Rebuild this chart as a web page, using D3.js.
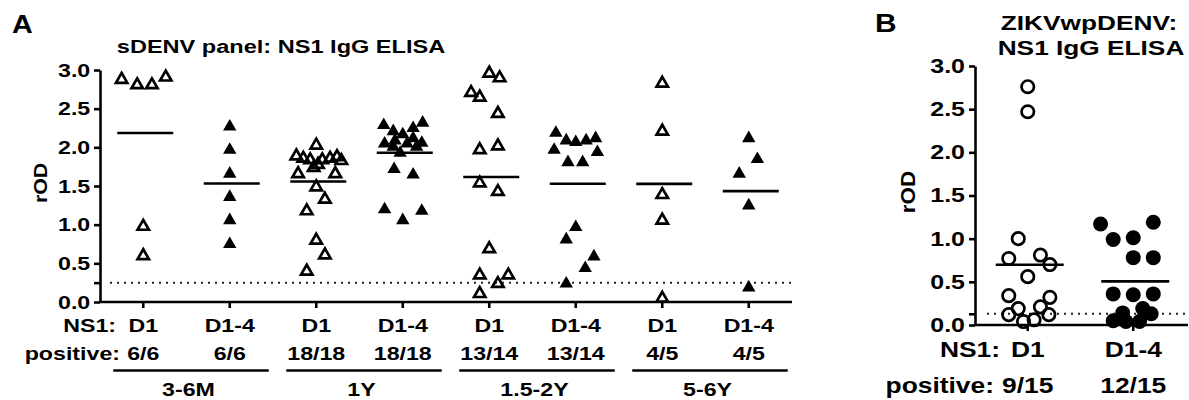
<!DOCTYPE html>
<html>
<head>
  <meta charset="utf-8">
  <title>NS1 IgG ELISA</title>
  <script src="https://d3js.org/d3.v7.min.js"></script>
  <style>
    body { margin: 0; padding: 0; background: #fff; }
    svg { font-family: "Liberation Sans", Arial, sans-serif; font-weight: bold; }
    .axis path, .axis line { stroke: #000; stroke-width: 2.6px; }
    .axis text { fill: #000; font-weight: bold; }
  </style>
</head>
<body>
<div id="chart"></div>
<script>
  // Panel A: sDENV panel
  var ns1A = ["D1", "D1-4", "D1", "D1-4", "D1", "D1-4", "D1", "D1-4"];
  var positiveA = ["6/6", "6/6", "18/18", "18/18", "13/14", "13/14", "4/5", "4/5"];
  var ageGroups = ["3-6M", "1Y", "1.5-2Y", "5-6Y"];
  var valuesA = [
    [2.90, 2.83, 2.83, 2.93, 1.00, 0.62],
    [2.29, 1.99, 1.68, 1.38, 1.08, 0.77],
    [2.05, 1.91, 1.88, 1.86, 1.86, 1.88, 1.90, 1.85, 1.80, 1.76, 1.68, 1.68, 1.51, 1.35, 1.20, 0.82, 0.63, 0.42],
    [2.31, 2.34, 2.27, 2.23, 2.19, 2.07, 2.11, 2.07, 2.14, 2.08, 1.95, 1.74, 1.67, 1.22, 1.20, 1.08, 2.03, 2.03],
    [2.98, 2.92, 2.73, 2.67, 2.46, 1.99, 2.04, 1.56, 1.45, 0.71, 0.37, 0.37, 0.26, 0.13],
    [2.21, 2.11, 2.09, 2.11, 2.14, 1.99, 1.96, 1.83, 1.83, 0.99, 0.83, 0.61, 0.46, 0.26],
    [2.85, 2.23, 1.41, 1.08, 0.07],
    [2.14, 1.87, 1.68, 1.27, 0.21]
  ];
  // horizontal scatter of each point, as a fraction of the category width
  var jitterA = [
    [-0.25, -0.07, 0.10, 0.26, 0, 0],
    [0, 0, 0, 0, 0, 0],
    [0, -0.23, -0.15, -0.07, 0.07, 0.16, 0.24, 0.29, 0.02, -0.03, -0.21, 0.22, 0, 0.10, -0.11, 0, 0.10, -0.11],
    [-0.22, 0.23, 0.12, -0.11, 0, -0.21, -0.09, 0.05, 0.12, 0.22, -0.03, -0.10, 0.12, -0.21, 0.22, 0, 0.16, -0.11],
    [0, 0.12, -0.21, -0.11, 0.10, -0.11, 0.10, -0.11, 0.10, 0, -0.11, 0.22, 0.10, -0.11],
    [-0.23, -0.11, 0, 0.12, 0.23, -0.25, 0.25, -0.09, 0.08, 0, -0.11, 0.21, 0.11, -0.11],
    [0, 0, 0, 0, 0],
    [0, 0.10, -0.11, 0, 0]
  ];
  var cutoffA = 0.25;

  // Panel B: ZIKVwpDENV
  var ns1B = ["D1", "D1-4"];
  var positiveB = ["9/15", "12/15"];
  var valuesB = [
    [2.76, 2.47, 1.00, 0.77, 0.81, 0.70, 0.56, 0.34, 0.32, 0.19, 0.21, 0.12, 0.12, 0.04, 0.06],
    [1.17, 1.19, 0.99, 1.01, 0.78, 0.78, 0.36, 0.35, 0.36, 0.14, 0.19, 0.13, 0.05, 0.04, 0.04]
  ];
  var jitterB = [
    [0, 0, -0.09, -0.18, 0.12, 0.21, 0, -0.18, 0.21, -0.09, 0.12, -0.18, 0.20, -0.04, 0.06],
    [-0.31, 0.19, -0.19, 0, 0, 0.19, -0.19, 0, 0.19, -0.10, 0.09, 0.17, -0.19, -0.07, 0.06]
  ];
  var cutoffB = 0.13;

  var yTicks = [0, 0.5, 1, 1.5, 2, 2.5, 3];

  var width = 1189, height = 400;
  var svg = d3.select("#chart").append("svg")
    .attr("width", width)
    .attr("height", height);

  // text drawn slightly wide, like the original figure
  function label(g, x, y, s, size, anchor, sx, rot) {
    return g.append("text")
      .attr("transform", "translate(" + x + "," + y + ")" + (rot ? " rotate(" + rot + ")" : "") + " scale(" + sx + ",1)")
      .attr("text-anchor", anchor)
      .attr("font-size", size)
      .text(s);
  }

  var triOpen = d3.symbol().type(d3.symbolTriangle).size(56);
  var triFill = d3.symbol().type(d3.symbolTriangle).size(78);
  var triShift = Math.sqrt(66 / (Math.sqrt(3) * 3)) / 2;

  function drawPanel(o) {
    var g = svg.append("g");
    var x = d3.scaleBand().domain(d3.range(o.labels.length)).range(o.xRange);
    var y = d3.scaleLinear().domain([0, 3]).range(o.yRange);
    var bw = x.bandwidth();
    var jit = d3.scaleLinear().domain([-0.5, 0.5]).range([-bw / 2, bw / 2]);
    var cx = function(i) { return x(i) + bw / 2; };

    // cutoff
    g.append("line")
      .attr("x1", o.xRange[0] + o.dotStart).attr("x2", o.dotEnd)
      .attr("y1", y(o.cutoff)).attr("y2", y(o.cutoff))
      .attr("stroke", "#222").attr("stroke-width", 2)
      .attr("stroke-dasharray", "2,5");

    // axes
    var yAxis = g.append("g").attr("class", "axis")
      .attr("transform", "translate(" + o.xRange[0] + ",0)")
      .call(d3.axisLeft(y).tickValues(yTicks.concat([o.cutoff]))
        .tickFormat(function(d) { return d === o.cutoff ? "" : d3.format(".1f")(d); })
        .tickSize(6).tickSizeOuter(0).tickPadding(2));
    yAxis.attr("font-size", null).attr("font-family", null);
    yAxis.selectAll("text")
      .attr("font-size", o.tickSize)
      .attr("transform", "scale(" + o.tickScale + ",1)");

    var xAxis = g.append("g").attr("class", "axis")
      .attr("transform", "translate(0," + o.yRange[0] + ")")
      .call(d3.axisBottom(x).tickFormat("").tickSize(6).tickSizeOuter(0));
    xAxis.select(".domain").attr("d", "M" + o.xRange[0] + ",0H" + o.axisEnd);

    // points
    o.values.forEach(function(vals, i) {
      var filled = o.labels[i] !== "D1";
      var pts = g.append("g");
      vals.forEach(function(v, j) {
        var px = cx(i) + jit(o.jitter[i][j]);
        var p;
        if (o.shape === "tri") {
          p = pts.append("path")
            .attr("d", filled ? triFill() : triOpen())
            .attr("transform", "translate(" + px + "," + (y(v) + triShift) + ")");
        } else {
          p = pts.append("circle").attr("cx", px).attr("cy", y(v))
            .attr("r", filled ? 7.5 : 6.2);
        }
        if (filled) p.attr("fill", "#000");
        else p.attr("fill", "none").attr("stroke", "#000").attr("stroke-width", 2.7);
      });
      // mean line
      var m = d3.mean(vals);
      g.append("line")
        .attr("x1", cx(i) + 2 - o.meanW / 2).attr("x2", cx(i) + 2 + o.meanW / 2)
        .attr("y1", y(m)).attr("y2", y(m))
        .attr("stroke", "#000").attr("stroke-width", 2.6);
    });

    // labels under the axis
    label(g, o.ns1X, o.row1, "NS1:", o.labSize, "end", o.labScale);
    label(g, o.posX, o.row2, "positive:", o.labSize, "end", o.labScale);
    o.labels.forEach(function(s, i) {
      label(g, cx(i), o.row1, s, o.labSize, "middle", o.labScale);
      label(g, cx(i), o.row2, o.positive[i], o.labSize, "middle", o.labScale);
    });

    // y title
    label(g, o.yTitle[0], o.yTitle[1], "rOD", o.tickSize, "middle", 1.12, -90);

    return { g: g, cx: cx };
  }

  var pA = drawPanel({
    labels: ns1A, positive: positiveA, values: valuesA, jitter: jitterA, cutoff: cutoffA,
    xRange: [100, 792], axisEnd: 792, yRange: [302, 70], shape: "tri",
    dotStart: 10, dotEnd: 792, meanW: 56,
    tickSize: 19, tickScale: 1.22, labSize: 19, labScale: 1.22,
    ns1X: 116, posX: 120, row1: 332, row2: 360, yTitle: [47, 183]
  });

  // age group underlines
  ageGroups.forEach(function(s, k) {
    var a = pA.cx(2 * k), b = pA.cx(2 * k + 1);
    pA.g.append("line")
      .attr("x1", a - 30).attr("x2", b + 39)
      .attr("y1", 370.5).attr("y2", 370.5)
      .attr("stroke", "#000").attr("stroke-width", 2.6);
    label(pA.g, (a + b) / 2 + 2, 396, s, 19, "middle", 1.22);
  });

  label(svg, 12, 33, "A", 25, "start", 1.15);
  label(svg, 281, 53, "sDENV panel: NS1 IgG ELISA", 19, "middle", 1.24);

  drawPanel({
    labels: ns1B, positive: positiveB, values: valuesB, jitter: jitterB, cutoff: cutoffB,
    xRange: [975, 1186], axisEnd: 1188, yRange: [325, 66], shape: "circle",
    dotStart: 12, dotEnd: 1189, meanW: 68,
    tickSize: 20, tickScale: 1.25, labSize: 22, labScale: 1.2,
    ns1X: 1000, posX: 994, row1: 357, row2: 393, yTitle: [915, 192]
  });

  label(svg, 875, 32, "B", 26, "start", 1.15);
  label(svg, 1089, 30, "ZIKVwpDENV:", 21, "middle", 1.25);
  label(svg, 1091, 55, "NS1 IgG ELISA", 21, "middle", 1.25);
</script>
</body>
</html>
